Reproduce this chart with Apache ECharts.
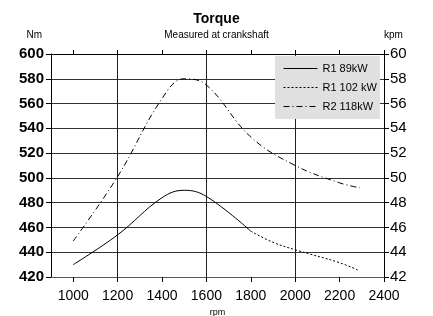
<!DOCTYPE html>
<html>
<head>
<meta charset="utf-8">
<script src="https://cdn.jsdelivr.net/npm/echarts@6/dist/echarts.min.js"></script>
<style>
  html, body { margin: 0; padding: 0; background: #fff; }
  #chart { width: 433px; height: 316px; }
</style>
</head>
<body>
<div id="chart"></div>
<script>
// rpm tick labels on the x axis
const rpmTicks = [1000, 1200, 1400, 1600, 1800, 2000, 2200, 2400];

// R1 89kW (solid), 1000-1800 rpm
const r1_89 = [[1000, 430], [1200, 454], [1400, 484], [1500, 490], [1600, 485], [1800, 457]];
// R1 102 kW (dotted), continues R1 from 1800 rpm
const r1_102 = [[1800, 457], [1900, 448], [2000, 442], [2200, 431.5], [2290, 425]];
// R2 118kW (dash-dot)
const r2_118 = [[1000, 449], [1200, 501], [1400, 564], [1500, 580], [1600, 575], [1800, 533], [2000, 510], [2200, 496], [2290, 492]];

const seriesNames = ['R1 89kW', 'R1 102 kW', 'R2 118kW'];

const font = 'Liberation Sans';

const chart = echarts.init(document.getElementById('chart'), null, { renderer: 'canvas' });

const lineSeries = (name, data, type) => ({
    name,
    type: 'line',
    data,
    smooth: 0.4,
    showSymbol: false,
    symbol: 'none',
    color: '#000',
    lineStyle: { color: '#000', width: 1, type },
    silent: true,
    animation: false
});

const option = {
    backgroundColor: '#fff',
    animation: false,
    title: {
        text: 'Torque',
        subtext: 'Measured at crankshaft',
        left: 'center',
        top: 7,
        itemGap: 4,
        textStyle: { fontFamily: font, fontSize: 14, fontWeight: 'bold', color: '#000' },
        subtextStyle: { fontFamily: font, fontSize: 10, color: '#000' }
    },
    legend: {
        data: seriesNames,
        orient: 'vertical',
        left: 275,
        top: 56,
        padding: [7, 3, 7, 8],
        itemGap: 8,
        itemWidth: 34,
        itemHeight: 8,
        backgroundColor: '#e0e0e0',
        itemStyle: { color: 'transparent', borderColor: 'transparent', borderWidth: 0 },
        lineStyle: { width: 1 },
        textStyle: { fontFamily: font, fontSize: 11, color: '#000' },
        selectedMode: false
    },
    grid: { left: 51, right: 49, top: 54, bottom: 39, outerBoundsMode: 'none' },
    xAxis: [{
        type: 'value',
        min: 900,
        max: 2400,
        interval: 100,
        name: 'rpm',
        nameLocation: 'middle',
        nameGap: 25,
        nameTextStyle: { fontFamily: font, fontSize: 9, color: '#000' },
        axisLine: { show: true, onZero: false, lineStyle: { color: '#555', width: 1 } },
        axisTick: { show: true, length: 5, customValues: rpmTicks, lineStyle: { color: '#000' } },
        axisLabel: { customValues: rpmTicks, formatter: v => String(v), fontFamily: font, fontSize: 14, color: '#000', margin: 12 },
        splitLine: { show: true, lineStyle: { color: ['transparent', '#222'], width: 1 } }
    }, {
        type: 'value',
        position: 'top',
        min: 900,
        max: 2400,
        interval: 100,
        axisLine: { show: true, lineStyle: { color: '#000' } },
        axisTick: { show: true, length: 4, customValues: rpmTicks, lineStyle: { color: '#000' } },
        axisLabel: { show: false },
        splitLine: { show: false }
    }],
    yAxis: [{
        type: 'value',
        min: 420,
        max: 600,
        interval: 20,
        name: 'Nm',
        nameLocation: 'end',
        nameGap: 14,
        nameTextStyle: { fontFamily: font, fontSize: 10, color: '#000', align: 'right', padding: [0, 9, 0, 0] },
        axisLine: { show: true, lineStyle: { color: '#000' } },
        axisTick: { show: true, length: 5, lineStyle: { color: '#000' } },
        axisLabel: { fontFamily: font, fontSize: 15, fontWeight: 'bold', color: '#000', margin: 7 },
        splitLine: { show: true, lineStyle: { color: '#333', width: 1 } }
    }, {
        type: 'value',
        position: 'right',
        min: 42,
        max: 60,
        interval: 2,
        name: 'kpm',
        nameLocation: 'end',
        nameGap: 14,
        nameTextStyle: { fontFamily: font, fontSize: 10, color: '#000', align: 'left', padding: [0, 0, 0, 0] },
        axisLine: { show: true, lineStyle: { color: '#000' } },
        axisTick: { show: true, length: 5, lineStyle: { color: '#000' } },
        axisLabel: { fontFamily: font, fontSize: 15, color: '#000', margin: 6 },
        splitLine: { show: false }
    }],
    series: [
        lineSeries(seriesNames[0], r1_89, 'solid'),
        lineSeries(seriesNames[1], r1_102, [2, 2]),
        lineSeries(seriesNames[2], r2_118, [6, 3, 1, 3])
    ]
};

chart.setOption(option);
</script>
</body>
</html>
